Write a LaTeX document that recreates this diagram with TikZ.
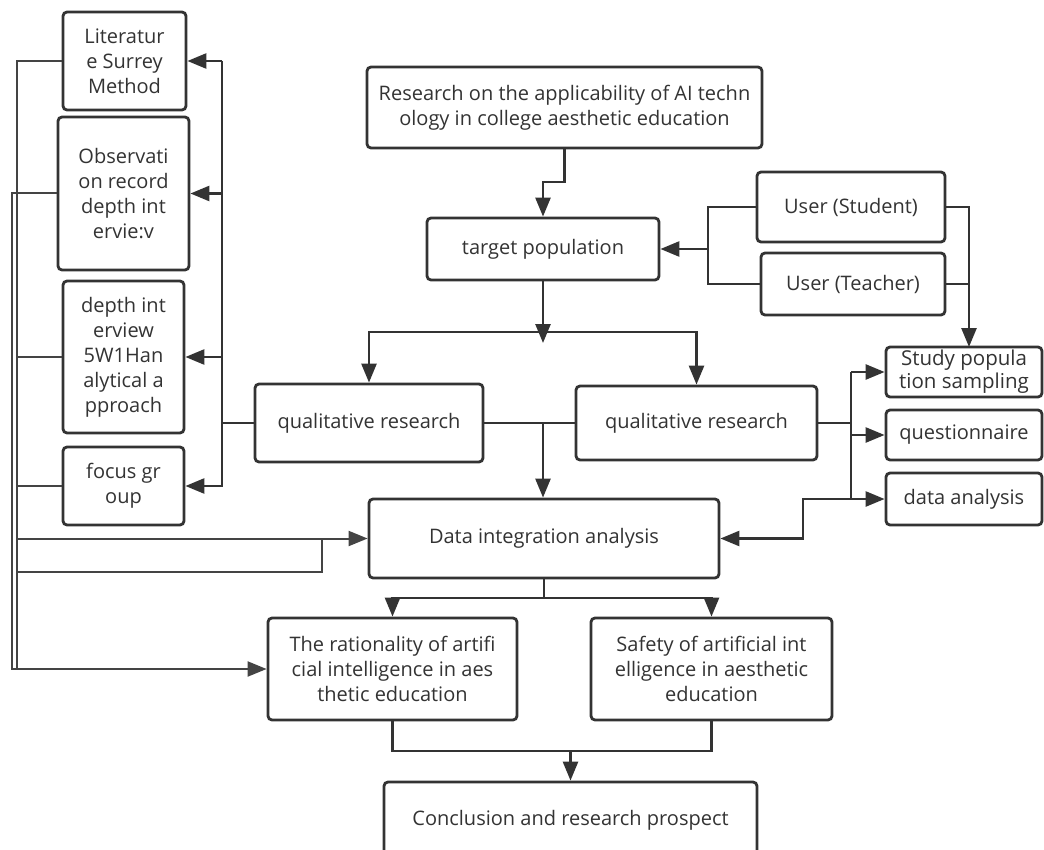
\documentclass[tikz,border=0pt]{standalone}
\usepackage{fontspec}
\setmainfont{Open Sans}
\usetikzlibrary{arrows.meta}
\definecolor{ink}{HTML}{333333}
\definecolor{thin}{HTML}{444444}
\begin{document}
\begin{tikzpicture}[x=1pt,y=-1pt,
  box/.style={draw=ink,line width=2.8pt,rounded corners=4pt,fill=white,inner sep=0pt,
    align=center,text=ink,font=\fontsize{20}{25}\selectfont},
  conn/.style={draw=ink,line width=2.6pt},
  arr/.style={conn,-{Triangle[length=19pt,width=15pt]}},
  lconn/.style={draw=thin,line width=2pt},
  larr/.style={lconn,-{Triangle[length=19pt,width=15pt]}}]
\useasboundingbox (0,0) rectangle (1044,850);
\fill[white] (0,0) rectangle (1044,850);
\clip (0,0) rectangle (1044,850);

% nodes
\node[box,minimum width=123pt,minimum height=98pt] (lit) at (124.5,61) {Literatur\\e Surrey\\Method};
\node[box,minimum width=131pt,minimum height=153pt] (obs) at (123.5,193.5) {Observati\\on record\\depth int\\ervie:v};
\node[box,minimum width=121pt,minimum height=152pt] (dep) at (123.5,357) {depth int\\erview\\5W1Han\\alytical a\\pproach};
\node[box,minimum width=121pt,minimum height=78pt] (foc) at (123.5,486) {focus gr\\oup};
\node[box,minimum width=395pt,minimum height=81pt] (res) at (564.5,107.5) {Research on the applicability of AI techn\\ology in college aesthetic education};
\node[box,minimum width=232pt,minimum height=62pt] (tgt) at (543,249) {target population};
\node[box,minimum width=188pt,minimum height=70pt] (stu) at (851,207) {User (Student)};
\node[box,minimum width=184pt,minimum height=62pt] (tea) at (853,284) {User (Teacher)};
\node[box,minimum width=156pt,minimum height=50pt,font=\fontsize{20.5}{23}\selectfont] (spl) at (964,372) {Study popula\\tion sampling};
\node[box,minimum width=156pt,minimum height=50pt] (que) at (964,435) {questionnaire};
\node[box,minimum width=156pt,minimum height=52pt] (dan) at (964,499) {data analysis};
\node[box,minimum width=228pt,minimum height=78pt] (ql) at (369,423) {qualitative research};
\node[box,minimum width=241pt,minimum height=74pt] (qr) at (696.5,423) {qualitative research};
\node[box,minimum width=350pt,minimum height=79pt] (dia) at (544,538.5) {Data integration analysis};
\node[box,minimum width=249pt,minimum height=102pt] (rat) at (392.5,669) {The rationality of artifi\\cial intelligence in aes\\thetic education};
\node[box,minimum width=241pt,minimum height=102pt] (saf) at (711.5,669) {Safety of artificial int\\elligence in aesthetic\\education};
\node[box,minimum width=373pt,minimum height=76pt] (con) at (570.5,820) {Conclusion and research prospect};

% top flow
\draw[arr] (res.south) -- (564.5,182) -| (tgt.north);
\coordinate (tdn) at (543,343);
\draw[arr] (tgt.south) -- (tdn);
\coordinate (split) at (543,332);
\draw[arr] (split) -| (ql.north);
\draw[arr] (split) -| (qr.north);

% users
\coordinate (uj) at (708,249);
\draw[conn] (stu.west) -| (uj) |- (tea.west);
\draw[arr] (uj) -- (tgt.east);
\coordinate (sj) at (969,347);
\draw[arr] (stu.east) -| (sj);
\draw[conn] (tea.east) -- (969,284);

% middle
\draw[conn] (ql.east) -- (qr.west);
\draw[arr] (543,423) -- (dia.north -| 543,0);

% right branch
\coordinate (bj) at (851,423);
\draw[conn] (qr.east) -- (bj);
\draw[conn] (851,372) -- (851,499);
\draw[arr] (851,372) -- (spl.west);
\draw[arr] (851,435) -- (que.west);
\coordinate (dj) at (851,499);
\draw[arr] (dj) -- (dan.west);
\draw[arr] (dj) -- (803,499) |- (dia.east);

% left branch
\coordinate (lj) at (222,423);
\draw[conn] (ql.west) -- (lj);
\draw[conn] (222,61) -- (222,487);
\draw[arr] (222,61) -- (lit.east);
\draw[arr] (222,193.5) -- (obs.east);
\draw[arr] (222,357) -- (dep.east);
\draw[arr] (222,486) -- (foc.east);

% far left lines
\draw[lconn] (lit.west) -- (17,61) -- (17,669);
\draw[lconn] (dep.west) -- (17,357);
\draw[lconn] (foc.west) -- (17,486);
\draw[larr] (obs.west) -- (12,193.5) |- (rat.west);
\draw[larr] (17,538.5) -- (dia.west);
\draw[lconn] (17,572) -| (322,538.5);

% bottom
\coordinate (bj2) at (544,598);
\draw[conn] (dia.south) -- (bj2);
\draw[arr] (bj2) -| (rat.north);
\draw[arr] (bj2) -| (saf.north);
\draw[conn] (rat.south) |- (570.5,751) -| (saf.south);
\draw[arr] (570.5,751) -- (con.north);
\end{tikzpicture}
\end{document}
